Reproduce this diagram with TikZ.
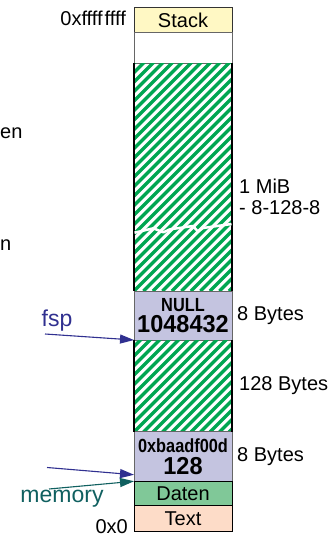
\documentclass[tikz,border=0pt]{standalone}
\usepackage{fontspec}
\setmainfont{Liberation Sans}
\usetikzlibrary{calc}
\usetikzlibrary{positioning}
\usetikzlibrary{arrows.meta}
\definecolor{stackyellow}{RGB}{255,248,196}
\definecolor{boxlavender}{RGB}{196,196,224}
\definecolor{datengreen}{RGB}{128,200,152}
\definecolor{textpeach}{RGB}{253,220,200}
\definecolor{hatchgreen}{RGB}{0,166,81}
\definecolor{fspblue}{RGB}{48,48,144}
\definecolor{memteal}{RGB}{16,96,96}
\newcommand{\lblfont}{\fontsize{20}{21.5}\selectfont}
\newcommand{\ptrfont}{\fontsize{23}{25}\selectfont}
\newcommand{\headerline}[1]{{\fontsize{19}{20}\selectfont\bfseries\scalebox{0.86}[1]{#1}}}
\newcommand{\valueline}[1]{{\fontsize{24.5}{23.5}\selectfont\bfseries\scalebox{0.96}[1]{#1}}}
\tikzset{
every picture/.style={x=1pt, y=-1pt, >={Triangle[length=14pt,width=9pt]}},
%%%%%%%%%%  Node styles
segment/.style={draw=black!60, line width=1pt, minimum width=98pt,
                inner sep=0pt, outer sep=0pt, font=\lblfont},
hatched/.style={draw=none, path picture={
   \foreach \i in {-247,-237.5,...,110}
     \draw[hatchgreen, line width=3.4pt]
       ($(path picture bounding box.south west)+(\i,0)$) -- ++(250,-250);
   }},
sizelabel/.style={anchor=west, align=left, inner sep=0pt, font=\lblfont},
addrlabel/.style={anchor=east, inner sep=0pt, font=\lblfont},
ptrlabel/.style={inner sep=0pt, font=\ptrfont},
%%%%%%% pointer lines
pointer/.style={->, line width=1.1pt}
}

\begin{document}
\begin{tikzpicture}
\useasboundingbox (0,0) rectangle (333,539);
%%%% memory column
\node[segment, fill=stackyellow, draw=black!80] (stack) at (183,20) [minimum height=24.5pt] {Stack};
\node[segment, minimum height=31pt] (free) at (183,47.8) {};
\node[segment, hatched, minimum height=228pt] (heapA) at (183,177) {};
\node[segment, fill=boxlavender, minimum height=49pt, align=center] (nullbox) at (183,315.5)
  {\headerline{NULL}\\\valueline{1048432}};
\node[segment, hatched, minimum height=92pt] (heapB) at (183,386) {};
\node[segment, fill=boxlavender, minimum height=49.5pt, align=center] (baad) at (183,456.5)
  {\headerline{0xbaadf00d}\\\valueline{128}};
\node[segment, fill=datengreen, draw=black, minimum height=24.5pt] (daten) at (183,493.5) {Daten};
\node[segment, fill=textpeach, draw=black, minimum height=26pt] (text) at (183,518.5) {Text};
\foreach \h in {heapA,heapB}
  \draw[line width=2pt] (\h.north west) -- (\h.south west) (\h.north east) -- (\h.south east);
%%%% break in the heap
\draw[white, line width=2.5pt, line join=round]
  (134.5,232.7) -- (153.3,228.3) -- (163.3,232.3) -- (170,229.3) -- (193,226)
  -- (198,231.7) -- (203,228) -- (231.5,224);
%%%% addresses and sizes
\node[addrlabel] (top) at (126,18) {0xffff\kern2pt ffff};
\node[addrlabel] (bottom) at (128,527) {0x0};
\node[sizelabel] (sizeA) at (239,197) {1 MiB\\- 8-128-8};
\node[sizelabel, right=5pt of nullbox] (sizeB) {8 Bytes};
\node[sizelabel, right=7pt of heapB] (sizeC) {128 Bytes};
\node[sizelabel, right=5pt of baad] (sizeD) {8 Bytes};
\node[sizelabel] (cutA) at (0,133) {en};
\node[sizelabel] (cutB) at (0,245) {n};
%%%% pointers
\node[ptrlabel, text=fspblue] (fsp) at (57,321) {fsp};
\coordinate (fsptail) at (45,334);
\draw[pointer, fspblue] (fsptail) -- (nullbox.south west);
\coordinate (bluetail) at (47,467.5);
\draw[pointer, fspblue] (bluetail) -- ($(baad.south west)+(0,-6.5)$);
\coordinate (memtail) at (49,489);
\draw[pointer, memteal] (memtail) -- (daten.north west);
\node[ptrlabel, text=memteal] (memory) at (62,499) {memory};
\end{tikzpicture}
\end{document}
